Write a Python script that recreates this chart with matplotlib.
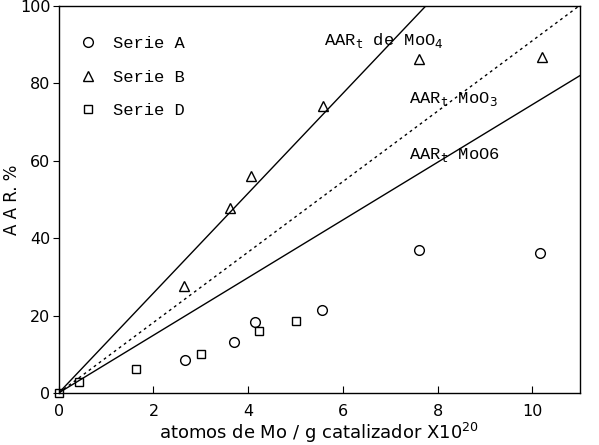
import matplotlib
matplotlib.use("Agg")
import matplotlib.pyplot as plt
import numpy as np

# Serie A (circles)
a_x = [2.66, 3.71, 4.15, 5.56, 7.6, 10.15]
a_y = [8.5, 13.1, 18.3, 21.3, 36.8, 36.2]
# Serie B (triangles)
b_x = [2.64, 3.62, 4.06, 5.58, 7.6, 10.2]
b_y = [27.6, 47.7, 56.0, 74.0, 86.3, 86.7]
# Serie D (squares)
d_x = [0.0, 0.42, 1.64, 3.0, 4.22, 5.0]
d_y = [0.0, 2.8, 6.1, 10.0, 16.0, 18.6]

# theoretical AAR_t lines (slope per 1e20 atoms Mo / g)
slope_moo4 = 12.9
slope_moo3 = 9.1
slope_moo6 = 7.45

mono = "Liberation Mono"
fs_txt = 12.3

fig = plt.figure(figsize=(5.99, 4.45), dpi=100)
ax = fig.add_axes([0.098, 0.117, 0.870, 0.870])

xl = np.array([0, 11])
ax.plot(xl, slope_moo4 * xl, color="black", lw=1.0)
ax.plot(xl, slope_moo3 * xl, color="black", lw=1.0, ls=(0, (2, 2.5)))
ax.plot(xl, slope_moo6 * xl, color="black", lw=1.0)

mk = dict(ls="none", mfc="none", mec="black", mew=1.0, ms=7, clip_on=False)
ax.plot(a_x, a_y, marker="o", label="Serie A", **mk)
ax.plot(b_x, b_y, marker="^", label="Serie B", **mk)
ax.plot(d_x, d_y, marker="s", label="Serie D", **{**mk, "ms": 6})

ax.text(5.6, 89.8, "AAR$_\\mathtt{t}$ de MoO$_4$", fontsize=fs_txt, family=mono)
ax.text(7.4, 75.0, "AAR$_\\mathtt{t}$ MoO$_3$", fontsize=fs_txt, family=mono)
ax.text(7.4, 60.5, "AAR$_\\mathtt{t}$ MoO6", fontsize=fs_txt, family=mono)

leg = ax.legend(loc="upper left", bbox_to_anchor=(0.01, 0.962), frameon=False,
                labelspacing=1.1, handletextpad=1.0, handlelength=1.0,
                prop={"family": mono, "size": fs_txt})

ax.set_xlim(0, 11)
ax.set_ylim(0, 100)
ax.set_xticks([0, 2, 4, 6, 8, 10])
ax.set_yticks([0, 20, 40, 60, 80, 100])
ax.tick_params(axis="x", direction="in", length=5, labelsize=11.5, pad=8)
ax.tick_params(axis="y", direction="out", length=4, labelsize=11.5, pad=2)
for s in ax.spines.values():
    s.set_linewidth(1.0)

ax.set_xlabel("atomos de Mo / g catalizador X10$^{20}$", fontsize=13, labelpad=1)
ax.set_ylabel("A A R. %", fontsize=12)
ax.yaxis.set_label_coords(-0.072, 0.5)

fig.savefig("out.png", dpi=100)
